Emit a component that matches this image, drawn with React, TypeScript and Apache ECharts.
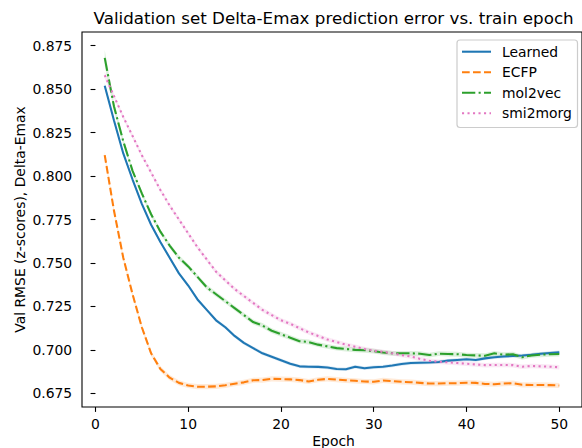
import React, { useEffect, useRef } from "react";
import * as echarts from "echarts";

const epochs = [
  1, 2, 3, 4, 5, 6, 7, 8, 9, 10, 11, 12, 13, 14, 15, 16, 17, 18, 19, 20, 21, 22, 23, 24, 25,
  26, 27, 28, 29, 30, 31, 32, 33, 34, 35, 36, 37, 38, 39, 40, 41, 42, 43, 44, 45, 46, 47, 48, 49, 50,
];

const learned = [
  0.852, 0.832, 0.813, 0.798, 0.784, 0.772, 0.762, 0.753, 0.744, 0.737,
  0.729, 0.723, 0.717, 0.713, 0.708, 0.704, 0.701, 0.698, 0.696, 0.694,
  0.692, 0.6905, 0.6903, 0.6902, 0.6898, 0.689, 0.6888, 0.6903, 0.6894, 0.69,
  0.6903, 0.691, 0.6919, 0.6924, 0.6926, 0.6927, 0.693, 0.6938, 0.6942, 0.6946,
  0.6942, 0.6951, 0.6957, 0.6962, 0.6965, 0.6968, 0.6972, 0.6978, 0.6982, 0.6986,
];

const ecfp = [
  0.812, 0.78, 0.753, 0.732, 0.713, 0.698, 0.689, 0.684, 0.681, 0.6795,
  0.6788, 0.6788, 0.679, 0.6796, 0.6805, 0.6813, 0.6825, 0.6826, 0.6833, 0.6832,
  0.683, 0.6826, 0.6818, 0.6828, 0.6833, 0.6829, 0.6825, 0.6822, 0.6818, 0.6816,
  0.6824, 0.682, 0.6816, 0.6814, 0.681, 0.6806, 0.6806, 0.6808, 0.6808, 0.6811,
  0.681, 0.6804, 0.6802, 0.6806, 0.6808, 0.6799, 0.6798, 0.6798, 0.6797, 0.6795,
];

const mol2vec = [
  0.868, 0.84, 0.82, 0.803, 0.79, 0.778, 0.768, 0.76, 0.753, 0.748,
  0.742, 0.736, 0.732, 0.728, 0.724, 0.72, 0.716, 0.714, 0.711, 0.709,
  0.707, 0.705, 0.7045, 0.703, 0.702, 0.701, 0.7005, 0.7, 0.6998, 0.6993,
  0.6985, 0.698, 0.698, 0.698, 0.6978, 0.697, 0.6978, 0.6976, 0.6975, 0.697,
  0.6968, 0.6966, 0.698, 0.6972, 0.6975, 0.6957, 0.6968, 0.6972, 0.6975, 0.6976,
];

const smi2morg = [
  0.858, 0.846, 0.834, 0.823, 0.812, 0.802, 0.792, 0.783, 0.775, 0.767,
  0.759, 0.752, 0.745, 0.74, 0.735, 0.731, 0.727, 0.723, 0.72, 0.717,
  0.715, 0.7125, 0.71, 0.708, 0.706, 0.7045, 0.703, 0.7018, 0.7005, 0.6995,
  0.6988, 0.698, 0.697, 0.6962, 0.6948, 0.6937, 0.6932, 0.6928, 0.6924, 0.692,
  0.6916, 0.6912, 0.6913, 0.6913, 0.6912, 0.6903, 0.6907, 0.6905, 0.6903, 0.69,
];

// half-widths of the shaded bands (first epochs listed, then the usual width)
const learnedBand = [0.0015, 0.001];
const ecfpBand = [0.002, 0.0015];
const mol2vecBand = [0.0045, 0.0025, 0.0018, 0.0014];
const smi2morgBand = [0.002, 0.0013];

const seriesNames = ["Learned", "ECFP", "mol2vec", "smi2morg"];
const seriesColors = ["#1f77b4", "#ff7f0e", "#2ca02c", "#e377c2"];

const xTicks = [0, 10, 20, 30, 40, 50];
const yTicks = [0.675, 0.7, 0.725, 0.75, 0.775, 0.8, 0.825, 0.85, 0.875];

const titleText = "Validation set Delta-Emax prediction error vs. train epoch";
const xLabel = "Epoch";
const yLabel = "Val RMSE (z-scores), Delta-Emax";

const FONT = "DejaVu Sans";
const LW = 2.08;
const dashes: (number[] | "solid")[] = [
  "solid",
  [7.7, 3.3],
  [13.3, 3.3, 2.1, 3.3],
  [2.1, 3.4],
];

function halfAt(band: number[], i: number) {
  return i < band.length ? band[i] : band[band.length - 1];
}

function bandSeries(values: number[], band: number[], color: string) {
  const data = epochs.map((e, i) => [e, values[i] - halfAt(band, i), values[i] + halfAt(band, i)]);
  return {
    type: "custom",
    silent: true,
    z: 1,
    clip: true,
    data,
    encode: { x: 0, y: [1, 2] },
    renderItem: (params: any, api: any) => {
      if (params.dataIndex !== 0) return null;
      const upper = data.map((d) => api.coord([d[0], d[2]]));
      const lower = data.map((d) => api.coord([d[0], d[1]])).reverse();
      return {
        type: "polygon",
        shape: { points: upper.concat(lower) },
        style: { fill: color, opacity: 0.16 },
      };
    },
  };
}

function lineSeries(name: string, values: number[], idx: number) {
  return {
    type: "line",
    name,
    data: epochs.map((e, i) => [e, values[i]]),
    showSymbol: false,
    symbol: "none",
    z: 3 + idx,
    clip: true,
    lineStyle: {
      color: seriesColors[idx],
      width: LW,
      type: dashes[idx],
      cap: "butt",
    },
  };
}

export default function App() {
  const ref = useRef<HTMLDivElement>(null);
  useEffect(() => {
    if (!ref.current) return;
    const chart = echarts.init(ref.current, undefined, { renderer: "svg" });
    const all = [learned, ecfp, mol2vec, smi2morg];
    const bands = [learnedBand, ecfpBand, mol2vecBand, smi2morgBand];

    const legendTop = 40;
    const legendRow = 20.5;
    const legendGraphics: any[] = [
      {
        type: "rect",
        shape: { x: 457, y: legendTop, width: 120.5, height: 87.5, r: 3 },
        style: { fill: "rgba(255,255,255,0.8)", stroke: "#cccccc", lineWidth: 1.2 },
        z: 100,
      },
    ];
    seriesNames.forEach((n, i) => {
      const cy = legendTop + 11.7 + i * legendRow;
      legendGraphics.push({
        type: "line",
        shape: { x1: 462, y1: cy, x2: 491, y2: cy },
        style: {
          stroke: seriesColors[i],
          lineWidth: LW,
          lineDash: dashes[i] === "solid" ? null : dashes[i],
          lineCap: "butt",
        },
        z: 101,
      });
      legendGraphics.push({
        type: "text",
        x: 502,
        y: cy,
        style: {
          text: n,
          fill: "#000",
          fontSize: 13.9,
          fontFamily: FONT,
          align: "left",
          verticalAlign: "middle",
        },
        z: 101,
      });
    });

    chart.setOption({
      animation: false,
      grid: {
        left: 82,
        top: 32,
        width: 503,
        height: 375,
        show: true,
        borderColor: "#000",
        borderWidth: 1.1,
        backgroundColor: "transparent",
      },
      xAxis: {
        type: "value",
        min: -1.45,
        max: 52.45,
        axisLine: { show: false },
        splitLine: { show: false },
        axisTick: {
          show: true,
          inside: false,
          length: 4.9,
          lineStyle: { color: "#000", width: 1.1 },
          customValues: xTicks,
        },
        axisLabel: {
          customValues: xTicks,
          color: "#000",
          fontSize: 13.9,
          fontFamily: FONT,
          margin: 9.5,
          formatter: (v: number) => String(v),
        },
      },
      yAxis: {
        type: "value",
        min: 0.66712,
        max: 0.88288,
        axisLine: { show: false },
        splitLine: { show: false },
        axisTick: {
          show: true,
          inside: false,
          length: 4.9,
          lineStyle: { color: "#000", width: 1.1 },
          customValues: yTicks,
        },
        axisLabel: {
          customValues: yTicks,
          color: "#000",
          fontSize: 13.9,
          fontFamily: FONT,
          margin: 9.8,
          formatter: (v: number) => v.toFixed(3),
        },
      },
      graphic: [
        {
          type: "text",
          x: 333.6,
          y: 17.9,
          style: {
            text: titleText,
            fill: "#000",
            fontSize: 16.7,
            fontFamily: FONT,
            align: "center",
            verticalAlign: "middle",
          },
        },
        {
          type: "text",
          x: 333.6,
          y: 447.5,
          style: {
            text: xLabel,
            fill: "#000",
            fontSize: 13.9,
            fontFamily: FONT,
            align: "center",
            verticalAlign: "bottom",
          },
        },
        {
          type: "text",
          x: 20,
          y: 219.5,
          rotation: Math.PI / 2,
          style: {
            text: yLabel,
            fill: "#000",
            fontSize: 13.9,
            fontFamily: FONT,
            align: "center",
            verticalAlign: "middle",
          },
        },
        ...legendGraphics,
      ],
      series: [
        ...all.map((v, i) => bandSeries(v, bands[i], seriesColors[i])),
        ...all.map((v, i) => lineSeries(seriesNames[i], v, i)),
      ],
    });
    return () => chart.dispose();
  }, []);
  return (
    <div
      ref={ref}
      style={{ position: "fixed", left: 0, top: 0, width: 582, height: 448, background: "#fff" }}
    />
  );
}
